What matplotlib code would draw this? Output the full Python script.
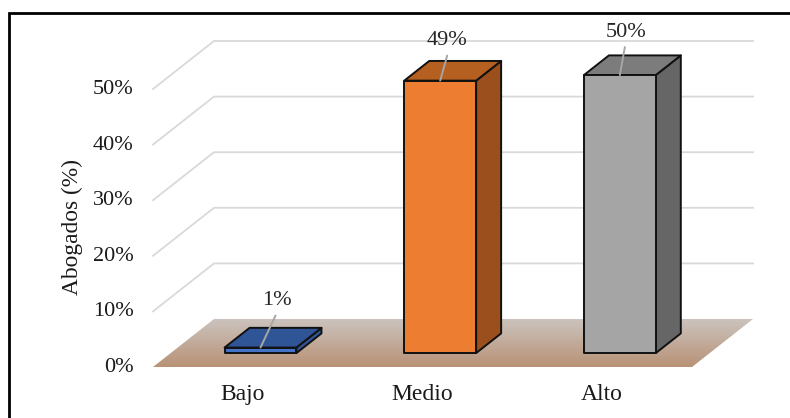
import numpy as np
import matplotlib
matplotlib.use("Agg")
import matplotlib.pyplot as plt
from matplotlib.patches import Polygon
from matplotlib.lines import Line2D
from matplotlib.transforms import ScaledTranslation

plt.rcParams['font.family'] = ['Liberation Serif', 'DejaVu Serif']

categories = ["Bajo", "Medio", "Alto"]
values = [1, 49, 50]
value_labels = ["1%", "49%", "50%"]
y_ticks = [0, 10, 20, 30, 40, 50]
y_tick_labels = ["0%", "10%", "20%", "30%", "40%", "50%"]
y_title = "Abogados (%)"

front_colors = ["#4472C4", "#ED7D31", "#A5A5A5"]
top_colors = ["#2F5597", "#B55F20", "#7C7C7C"]
side_colors = ["#2F5597", "#9A4F1C", "#666666"]

W, H = 790, 418
fig = plt.figure(figsize=(W / 100, H / 100), dpi=100)
# axes = the front plane of the 3D box
ax = fig.add_axes([153 / W, (H - 367) / H, 539 / W, 278 / H])
ax.patch.set_alpha(0)
for s in ax.spines.values():
    s.set_visible(False)

# oblique depth of the whole box, in data units (61px right, 48px up)
DX = 61 / (539 / 3)
DY = 48 / (278 / 50)


def pt(x, y, d):
    return (x + d * DX, y + d * DY)


# floor with gradient
floor = Polygon([pt(-0.5, 0, 0), pt(2.5, 0, 0), pt(2.5, 0, 1), pt(-0.5, 0, 1)],
                transform=ax.transData, fc="none", ec="none")
ax.add_patch(floor)
c_back = np.array([0xCC, 0xC4, 0xBF]) / 255
c_front = np.array([0xB8, 0x92, 0x76]) / 255
t = np.linspace(0, 1, 64)[:, None, None]
grad = c_back * (1 - t) + c_front * t
im = ax.imshow(grad, extent=[-0.5, 2.5 + DX, 0, DY], aspect="auto", zorder=1)
im.set_clip_box(fig.bbox)
im.set_clip_path(floor)

# gridlines on the side and back walls
for v in y_ticks[1:]:
    x0, y0 = pt(-0.5, v, 0)
    x1, y1 = pt(-0.5, v, 1)
    x2, y2 = pt(2.5, v, 1)
    ax.plot([x0, x1, x2], [y0, y1, y2], color="#D9D9D9", lw=1.3, zorder=2,
            clip_on=False, solid_joinstyle="miter")

# bars
bar_w = 0.4
d0, d1 = 0.29, 0.70
for i, v in enumerate(values):
    l, r = i - bar_w / 2, i + bar_w / 2
    faces = [
        ([pt(r, 0, d0), pt(r, 0, d1), pt(r, v, d1), pt(r, v, d0)], side_colors[i]),
        ([pt(l, v, d0), pt(r, v, d0), pt(r, v, d1), pt(l, v, d1)], top_colors[i]),
        ([pt(l, 0, d0), pt(r, 0, d0), pt(r, v, d0), pt(l, v, d0)], front_colors[i]),
    ]
    for xy, c in faces:
        ax.add_patch(Polygon(xy, closed=True, fc=c, ec="#111111", lw=1.4,
                             joinstyle="round", zorder=3 + i * 0.1, clip_on=False))

# leaders and value labels, offsets in pixels from the front top of each bar
leader_end = [(15, 32), (7, 25), (5, 28)]
text_pos = [(16, 47), (7, 40), (6, 43)]
for i, v in enumerate(values):
    top = pt(i, v, d0)
    ax.annotate("", xy=top, xytext=leader_end[i], textcoords="offset pixels",
                arrowprops=dict(arrowstyle="-", color="#A6A6A6", lw=1.4,
                                shrinkA=0, shrinkB=0), zorder=5, annotation_clip=False)
    ax.annotate(value_labels[i], xy=top, xytext=text_pos[i], textcoords="offset pixels",
                ha="center", va="center", fontsize=16, color="#262626", zorder=6,
                annotation_clip=False)

ax.set_xlim(-0.5, 2.5)
ax.set_ylim(0, 50)
ax.set_xticks(range(3))
ax.set_xticklabels(categories, fontsize=17, color="#1A1A1A")
ax.set_yticks(y_ticks)
ax.set_yticklabels(y_tick_labels, fontsize=16, color="#1A1A1A")
ax.tick_params(axis="x", length=0, pad=12)
ax.tick_params(axis="y", length=0, pad=14)
up = ScaledTranslation(0, 2 / 100, fig.dpi_scale_trans)
for lab in ax.get_yticklabels():
    lab.set_transform(lab.get_transform() + up)
fig.text(72 / W, 1 - 227 / H, y_title, rotation=90, ha="center", va="center",
         fontsize=16.8, color="#1A1A1A")

# black picture frame, only left and top are visible in the crop
fig.add_artist(Line2D([8.5 / W, 8.5 / W, 1], [0, 1 - 13 / H, 1 - 13 / H],
                      color="black", lw=2, solid_joinstyle="miter"))

fig.savefig("out.png", dpi=100)
